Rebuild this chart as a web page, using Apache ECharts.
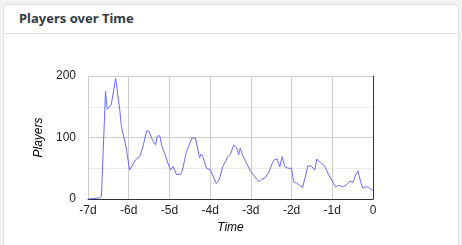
<!DOCTYPE html>
<html>
<head>
<meta charset="utf-8">
<script src="https://cdn.jsdelivr.net/npm/echarts@6/dist/echarts.min.js"></script>
<style>
html,body{margin:0;padding:0;width:462px;height:245px;background:#f1f2f4;overflow:hidden;}
#card{position:absolute;left:3px;top:4px;width:454px;height:250px;background:#fff;border:1px solid #dfe1e4;border-radius:4px;}
#hdr{position:absolute;left:0;top:0;width:454px;height:28px;border-bottom:1px solid #dfe1e4;}
#title{position:absolute;left:15px;top:4px;font-family:"Noto Sans",sans-serif;font-weight:700;font-size:13px;color:#343a40;}
#chart{position:absolute;left:0;top:0;width:462px;height:245px;}
</style>
</head>
<body>
<div id="card"><div id="hdr"><div id="title">Players over Time</div></div></div>
<div id="chart"></div>
<script>
const days = [-7.0,-6.8,-6.72,-6.67,-6.57,-6.53,-6.43,-6.32,-6.22,-6.18,-6.06,-5.98,-5.88,-5.83,-5.73,-5.65,-5.56,-5.5,-5.42,-5.34,-5.3,-5.24,-5.18,-5.12,-5.01,-4.97,-4.91,-4.83,-4.73,-4.68,-4.59,-4.45,-4.36,-4.31,-4.26,-4.22,-4.18,-4.09,-3.99,-3.95,-3.85,-3.78,-3.69,-3.56,-3.5,-3.42,-3.35,-3.3,-3.26,-3.19,-3.11,-3.01,-2.91,-2.8,-2.74,-2.66,-2.56,-2.47,-2.42,-2.35,-2.29,-2.23,-2.17,-2.09,-2.0,-1.95,-1.88,-1.8,-1.73,-1.65,-1.6,-1.51,-1.43,-1.38,-1.29,-1.19,-1.11,-1.0,-0.92,-0.84,-0.75,-0.67,-0.57,-0.49,-0.44,-0.37,-0.3,-0.25,-0.16,-0.11,-0.04,0];
const players = [0,1,2,4,175,146,153,196,145,118,83,47,58,64,69,85,111,110,96,88,102,103,85,75,53,47,53,40,40,47,75,99,99,83,67,73,69,50,47,45,25,31,53,69,73,88,83,72,83,69,59,45,37,28,32,34,43,59,64,65,52,69,53,50,50,28,26,22,19,39,54,53,47,65,59,54,42,29,20,22,20,22,29,27,37,46,27,18,20,19,15,14];
const yTicks = [0,100,200];

const chart = echarts.init(document.getElementById('chart'), null, {renderer:'canvas'});
const data = days.map((d,i)=>[d, players[i]]);
chart.setOption({
  animation:false,
  grid:{left:88,right:89,top:76,bottom:46},
  xAxis:{
    type:'value',min:-7,max:0,interval:1,
    name:'Time',nameLocation:'middle',nameGap:22,
    nameTextStyle:{fontFamily:'Liberation Sans, Arial',fontStyle:'italic',fontSize:12,color:'#000'},
    axisLine:{show:true,onZero:false,lineStyle:{color:'#333',width:1}},
    axisTick:{show:false},
    axisLabel:{fontFamily:'Liberation Sans, Arial',fontSize:12,color:'#222',margin:6,
      formatter:v=>v===0?'0':(v+'d')},
    splitLine:{show:true,lineStyle:{color:'#cccccc',width:1}}
  },
  yAxis:[{
    type:'value',min:0,max:200,interval:50,
    name:'Players',nameLocation:'middle',nameGap:43,nameRotate:90,
    nameTextStyle:{fontFamily:'Liberation Sans, Arial',fontStyle:'italic',fontSize:12,color:'#000'},
    axisLine:{show:false},axisTick:{show:false},
    axisLabel:{fontFamily:'Liberation Sans, Arial',fontSize:12,color:'#222',margin:12,
      formatter:v=>yTicks.includes(v)?String(v):''},
    splitLine:{show:true,lineStyle:{color:['#cccccc','#ebebeb'],width:1}}
  },{
    type:'value',min:0,max:200,position:'right',
    axisLine:{show:true,lineStyle:{color:'#333',width:1}},
    axisTick:{show:false},axisLabel:{show:false},splitLine:{show:false}
  }],
  series:[{
    type:'line',data:data,showSymbol:false,symbol:'none',
    lineStyle:{color:'#6a6aff',width:1},
    yAxisIndex:0
  }]
});
</script>
</body>
</html>
